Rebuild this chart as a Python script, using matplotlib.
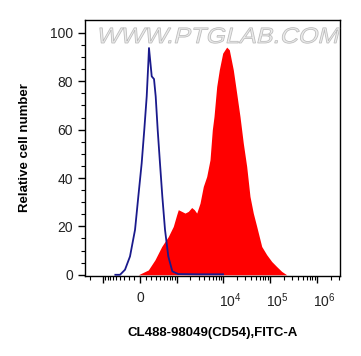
import matplotlib
matplotlib.use("Agg")
import matplotlib.pyplot as plt
import matplotlib.transforms as mtransforms
from matplotlib.font_manager import FontProperties
from matplotlib.patches import PathPatch
from matplotlib.textpath import TextPath
import numpy as np

plt.rcParams["font.family"] = ["Liberation Sans", "DejaVu Sans"]
plt.rcParams["mathtext.fontset"] = "custom"
plt.rcParams["mathtext.rm"] = "Liberation Sans"
plt.rcParams["mathtext.it"] = "Liberation Sans"

# control histogram, FITC-A intensity vs % of max
control_x = [-520, -390, -274, -174, -84, -28, 28, 72, 114, 143, 155, 207, 253,
             289, 334, 390, 452, 531, 640, 798, 1088, 3000, 10000]
control_y = [0, 0, 2.1, 7.6, 18.6, 32.4, 46.1, 59.9, 73.7, 87.5, 93.7, 82, 80.9,
             73.7, 59.9, 46.1, 32.4, 18.6, 7.6, 1.4, 0.3, 0.2, 0.2]

# stained sample histogram
sample_x = [-2500, -28, 143, 274, 436, 640, 839, 1001, 1088, 1295, 1530, 1804,
            2134, 2432, 2738, 3222, 3789, 4477, 5268, 5899, 6411, 7321, 8314,
            9828, 11952, 13575, 16525, 19515, 22950, 26970, 31850, 37440, 44020,
            52040, 66560, 84980, 108540, 138600, 177150, 226250, 3000000]
sample_y = [0, 0, 2, 6.2, 11.7, 15.8, 20, 24.8, 26.9, 26.2, 25.5, 26.2,
            27.8, 26.9, 25.5, 29.6, 36.5, 40.6, 47.5, 59.9, 65.4, 77.8, 84.7,
            91.6, 94.1, 93, 84.7, 75, 65.4, 54.4, 44.8, 32.4, 25.5,
            20, 11.7, 8.3, 5.5, 3.4, 1.4, 0, 0]

x_major = [-1000, 0, 1000, 1e4, 1e5, 1e6]
x_major_labels = ["", "0", "", "$10^4$", "$10^5$", "$10^6$"]
x_minor = ([-2000] + list(range(-900, 0, 100)) + list(range(100, 1000, 100))
           + list(range(2000, 10000, 1000)) + list(range(20000, 100000, 10000))
           + list(range(200000, 1000000, 100000)) + [2000000, 3000000])

C = 341.0


def fwd(x):
    return np.arcsinh(np.asarray(x, dtype=float) / C)


def inv(y):
    return C * np.sinh(np.asarray(y, dtype=float))


W, H = 361, 356
fig = plt.figure(figsize=(W / 100, H / 100), dpi=100)
ax = fig.add_axes([85 / W, 1 - 276 / H, 255 / W, 256 / H])
ax.set_xscale("function", functions=(fwd, inv))

# watermark
tp = TextPath((0, 0), "WWW.PTGLAB.COM", size=1,
              prop=FontProperties(family="Liberation Sans"))
wm_tr = (mtransforms.Affine2D().skew_deg(12, 0).scale(25.2, 22.0)
         .translate(96, H - 43).scale(1 / W, 1 / H) + fig.transFigure)
fig.patches.append(PathPatch(tp, transform=wm_tr, facecolor="#ececec",
                             edgecolor="#bdbdbd", lw=0.6, zorder=0))

ax.fill_between(sample_x, sample_y, 0, color="#ff0000", lw=0, zorder=2)
ax.plot(control_x, control_y, color="#1a1a8c", lw=1.3, zorder=3)

ax.set_xlim(-2517, 3.09e6)
ax.set_ylim(-0.5, 105.3)
ax.patch.set_alpha(0)

ax.set_xticks(x_major)
ax.set_xticklabels(x_major_labels)
ax.set_xticks(x_minor, minor=True)
ax.set_yticks([0, 20, 40, 60, 80, 100])
ax.set_yticks(np.arange(5, 105, 5), minor=True)
ax.tick_params(axis="both", which="major", direction="out", length=5, width=1,
               labelsize=10, colors="black", labelcolor="#222222")
ax.tick_params(axis="both", which="minor", direction="out", length=3, width=0.8)
ax.tick_params(axis="x", pad=6)

off = mtransforms.ScaledTranslation(7 / 100, 0, fig.dpi_scale_trans)
for lab in ax.get_xticklabels()[3:]:
    lab.set_transform(lab.get_transform() + off)

for s in ax.spines.values():
    s.set_linewidth(1)

ax.set_ylabel("Relative cell number", fontsize=9.5, fontweight="bold", labelpad=14)
ax.set_xlabel("CL488-98049(CD54),FITC-A", fontsize=9.5, fontweight="bold", labelpad=12)

fig.savefig("out.png", dpi=100)
plt.close(fig)
